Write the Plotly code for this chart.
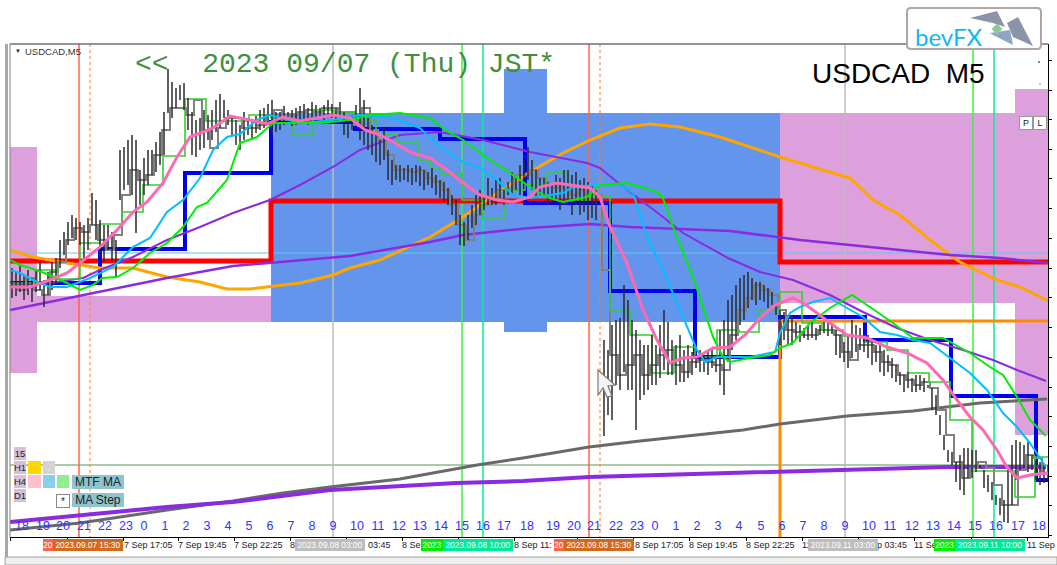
import plotly.graph_objects as go

# Daily range boxes
box_left = [10, 37, 271, 504, 780, 1015]
box_right = [37, 271, 780, 547, 1015, 1048]
box_top = [147, 296, 113, 69, 113, 89]
box_bottom = [373, 322, 322, 332, 303, 435]
box_color = ["#dda0dd", "#dda0dd", "#6495ed", "#6495ed", "#dda0dd", "#dda0dd"]

# Bars: one every 4 units from 12
bar_high = [
    268,272,265,275,270,278,270,262,280,272,
    262,258,240,232,222,215,218,222,225,218,
    193,200,220,225,225,232,240,150,147,140,
    135,140,170,158,150,150,142,132,112,69,
    82,88,85,83,98,112,120,118,110,115,
    110,100,94,100,110,115,120,125,112,118,
    122,116,110,108,104,100,112,112,106,112,
    110,108,106,104,108,102,105,108,105,100,
    104,108,102,112,118,115,105,88,100,118,
    125,135,140,128,150,160,165,165,168,165,
    168,165,166,170,172,168,175,180,182,188,
    195,200,215,222,215,205,195,190,195,178,
    188,180,178,190,182,172,178,165,160,147,
    160,170,178,178,182,185,175,178,170,170,
    175,172,180,178,182,185,190,262,340,350,
    325,320,318,285,300,320,330,340,345,345,
    335,345,325,310,322,340,345,335,350,345,
    352,355,350,355,352,350,355,330,320,300,
    295,285,278,275,272,278,282,282,285,288,
    292,305,310,312,318,315,322,325,328,325,
    322,328,325,322,322,325,330,335,342,335,
    320,325,328,335,335,340,345,345,350,355,
    358,365,372,375,372,378,375,375,378,385,
    388,395,415,435,450,452,462,455,448,448,
    450,450,465,470,475,482,495,498,500,470,
    445,440,442,445,442,455,460,462,465,465,
]
bar_low = [
    298,296,292,300,295,302,292,290,307,295,
    290,285,268,255,245,238,240,245,262,250,
    225,240,258,262,250,262,278,200,190,185,
    195,233,205,195,185,175,172,165,155,113,
    118,108,100,110,130,155,157,150,148,140,
    140,132,128,118,125,135,145,150,140,135,
    140,133,130,128,125,135,132,130,125,122,
    126,125,122,120,125,120,118,118,120,115,
    118,120,118,135,138,130,120,140,145,150,
    155,162,165,160,180,185,180,182,180,182,
    185,182,186,190,185,188,195,198,202,205,
    215,225,245,246,240,228,225,215,210,205,
    205,205,198,205,195,195,190,195,185,180,
    190,198,195,195,205,202,200,210,205,200,
    215,205,215,212,220,218,220,262,436,415,
    420,385,390,372,390,390,430,400,395,390,
    385,385,378,370,375,375,385,382,382,378,
    375,368,372,372,375,368,372,385,395,362,
    350,340,325,320,308,300,305,300,302,308,
    305,315,345,340,345,345,340,342,338,340,
    338,340,335,333,336,334,355,358,362,368,
    358,352,350,352,358,365,362,372,376,372,
    378,382,385,392,388,392,392,390,392,388,
    410,415,435,450,462,465,482,490,495,478,
    478,472,468,488,492,500,505,515,522,523,
    505,480,470,468,472,470,480,485,483,480,
]

# Grey close line: one every 8 units from 10
close_line = [
    285,290,278,290,295,272,262,240,228,232,
    225,240,250,235,195,170,180,175,155,130,
    108,108,115,100,130,148,128,118,118,128,
    128,125,115,110,120,115,112,110,112,108,
    108,112,112,125,108,130,140,155,170,170,
    172,170,178,182,190,205,225,240,215,205,
    200,190,190,175,175,170,178,185,188,185,
    195,190,195,195,270,355,375,365,355,375,
    365,355,350,365,372,362,360,362,365,370,
    335,310,298,285,290,295,310,330,332,335,
    335,330,330,335,352,360,345,345,352,362,
    365,375,380,385,382,388,410,435,462,478,
    468,462,468,485,505,505,470,455,458,472,
]

# Step lines
step_green_x = [10,37,58,80,100,122,143,163,185,206,249,271,292,313,334,355,376,397,418,430,440,462,483,504,525,547,568,590,610,630,652,674,695,717,739,759,780,802,822,843,865,887,908,929,950,972,993,1015,1035,1048]
step_green_y = [283,270,279,243,224,212,185,156,99,121,115,118,135,110,112,120,135,143,160,168,174,200,218,190,185,173,200,196,310,335,373,347,357,330,332,310,292,323,330,336,342,350,373,382,420,471,471,497,457,457]
step_blue_x = [10,100,185,271,355,440,525,610,695,780,865,951,1036,1048]
step_blue_y = [283,249,173,122,129,139,203,291,357,317,340,396,480,480]
step_red_x = [10,271,780,1048]
step_red_y = [261,201,262,262]
step_orange_x = [780,780,1048]
step_orange_y = [537,321,321]

# Moving averages
pink_x = [10,30,50,67,80,100,117,133,147,163,177,190,213,230,250,267,283,300,333,350,365,380,395,410,430,447,463,480,497,513,530,540,557,570,590,600,610,627,643,657,670,683,697,713,730,745,760,775,793,803,813,830,847,867,887,907,927,943,957,970,983,997,1007,1017,1030,1048]
pink_y = [287,287,280,273,263,247,230,212,202,183,157,137,128,116,120,124,117,121,115,118,130,135,143,152,158,170,183,195,200,202,197,187,183,185,188,197,227,263,310,340,363,358,357,348,347,335,318,305,298,303,310,323,335,338,347,353,363,380,400,417,430,450,467,478,475,473]
sky_x = [10,20,33,50,67,90,113,133,150,167,183,200,213,227,240,257,270,300,333,360,390,420,440,463,480,497,513,530,563,573,597,620,633,647,663,680,697,705,717,730,750,775,780,790,800,813,830,847,863,880,897,913,930,950,970,987,1003,1017,1030,1046]
sky_y = [270,273,280,287,287,278,267,247,238,212,200,178,150,137,134,120,115,123,120,115,117,128,147,162,168,180,195,198,193,187,185,185,193,237,270,310,350,362,357,357,357,352,333,313,307,302,298,308,317,332,335,340,343,358,373,390,413,427,443,467]
lime_x = [10,20,30,50,67,80,93,102,117,133,150,167,183,197,207,227,240,257,273,320,350,370,400,430,445,463,490,510,530,547,563,587,600,627,657,663,673,693,713,723,730,750,770,780,793,810,830,852,870,893,913,943,970,990,1003,1017,1030,1046]
lime_y = [260,265,268,275,283,290,285,278,277,268,253,243,227,207,203,180,143,137,123,123,120,115,113,118,130,140,160,173,187,197,202,197,185,183,192,198,227,277,337,357,362,358,355,348,343,323,308,295,307,323,338,338,353,367,375,397,420,436]
orange_x = [10,33,67,100,133,167,200,227,250,300,333,350,380,430,463,497,530,563,590,620,650,680,720,780,850,873,900,930,960,997,1020,1048]
orange_y = [250,257,263,268,268,277,282,289,289,283,275,268,260,237,217,193,172,153,140,128,124,127,137,157,178,200,215,240,262,280,287,301]
violet_x = [10,50,83,100,133,167,200,233,270,300,333,360,400,440,483,530,587,600,617,637,663,683,710,728,760,793,830,863,897,930,963,993,1017,1046]
violet_y = [285,283,278,270,257,240,227,213,200,185,167,150,135,132,140,152,163,168,182,197,217,233,248,258,272,280,295,312,328,340,350,360,370,381]
indigo_x = [10,63,83,167,233,270,333,350,430,463,530,590,630,730,800,900,950,1000,1048]
indigo_y = [310,299,295,278,266,263,258,256,242,235,228,224,227,231,240,250,255,258,263]
slow_violet_x = [10,80,167,233,330,456,523,589,778,842,947,1046]
slow_violet_y = [522,515,507,502,490,483,481,477,472,470,467,467]
slow_grey_x = [10,80,167,233,283,330,400,456,477,523,589,640,743,780,847,913,980,1047]
slow_grey_y = [530,523,510,501,493,487,479,469,465,458,447,441,430,424,416,411,403,399]

# Vertical session lines
vline_x = [79,90,333,462,483,589,600,845,973,994]
vline_color = ["#ff6347","#ff7f27","#bdbdbd","#3cf03c","#00f090","#ff6347","#ff7f27","#bdbdbd","#3cf03c","#00f090"]
vline_dash = ["solid","dot","solid","solid","solid","solid","dot","solid","solid","solid"]

# Axis labels (only the parts the stamps leave visible)
hour_x = [22,43,63,84,105,126,144,165,186,207,228,249,270,291,312,333,357,378,399,420,441,462,483,504,527,553,574,594,616,637,655,676,697,718,739,761,782,803,824,845,869,890,912,933,954,975,996,1018,1039]
hour_labels = ["18","19","20","21","22","23","0","1","2","3","4","5","6","7","8","9","10","11","12","13","14","15","16","17","18","19","20","21","22","23","0","1","2","3","4","5","6","7","8","9","10","11","12","13","14","15","16","17","18"]
xtick_pos = [10,67,123,178,234,290,346,402,458,514,577,633,689,746,802,858,914,971,1027]
xlabel_pos = [10,124,178,234,290,368,402,514,635,689,746,802,877,914,1027]
xlabel_text = ["7 Sep 20","7 Sep 17:05","7 Sep 19:45","7 Sep 22:25","8","03:45","8 Se","8 Sep 11:","8 Sep 17:05","8 Sep 19:45","8 Sep 22:25","11","p 03:45","11 Se","11 Sep"]
stamp_x0 = [53,295,443,564,808,955]
stamp_text = ["2023.09.07 15:30","2023.09.08 03:00","2023.09.08 10:00","2023.09.08 15:30","2023.09.11 03:00","2023.09.11 10:00"]
stamp_color = ["#d2691e","#bdbdbd","#00e89a","#d2691e","#bdbdbd","#00e89a"]
stub_x0 = [43,421,554,934]
stub_x1 = [53,443,564,955]
stub_text = ["20","2023","20","2023"]
stub_color = ["#ff6347","#00ee00","#ff6347","#00ee00"]
ytick_pos = [60,90,119,149,178,208,238,268,297,327,357,387,416,446,476,505,535]

fig = go.Figure()
fig.add_trace(go.Bar(
    x=[(a + b) / 2 for a, b in zip(box_left, box_right)],
    width=[b - a for a, b in zip(box_left, box_right)],
    base=box_top,
    y=[b - t for b, t in zip(box_bottom, box_top)],
    marker=dict(color=box_color, line=dict(width=0)),
))


def line(x, y, color, width, shape="linear", dash="solid"):
    fig.add_trace(go.Scatter(x=x, y=y, mode="lines",
                             line=dict(color=color, width=width, shape=shape, dash=dash)))


line([10, 1048], [253, 253], "#5cc8f5", 1)
line([10, 1048], [465, 465], "#8fb98f", 1.5)
for vx, vc, vd in zip(vline_x, vline_color, vline_dash):
    line([vx, vx], [44, 537], vc, 1.5 if vd == "solid" else 1, dash=vd)

line(step_red_x, step_red_y, "#ff0000", 5, "hv")
line(step_blue_x, step_blue_y, "#0000f0", 4, "hv")
line(step_orange_x, step_orange_y, "#ff8c00", 3)
line(orange_x, orange_y, "#ffa500", 3)
line(indigo_x, indigo_y, "#8a2be2", 2.5)
line(violet_x, violet_y, "#8a2be2", 2)
line(slow_grey_x, slow_grey_y, "#696969", 3)
line(slow_violet_x, slow_violet_y, "#8a2be2", 4)
line([10 + 8 * i for i in range(len(close_line))], close_line, "#808080", 2, "hv")
line(step_green_x, step_green_y, "#32cd32", 1.6, "hv")

wick_x, wick_y = [], []
for i, (h, l) in enumerate(zip(bar_high, bar_low)):
    px = 12 + 4 * i
    wick_x += [px, px, None]
    wick_y += [h, l, None]
line(wick_x, wick_y, "#2a2a2a", 1.5)

line(sky_x, sky_y, "#00bfff", 2)
line(lime_x, lime_y, "#00ee00", 2)
line(pink_x, pink_y, "#ff69b4", 3)
fig.add_trace(go.Scatter(x=hour_x, y=[527] * len(hour_x), mode="text", text=hour_labels,
                         textfont=dict(family="Liberation Sans", size=12.5, color="#3232ff"),
                         cliponaxis=False))
fig.add_trace(go.Scatter(x=[1039, 1040], y=[62, 84], mode="markers",
                         marker=dict(size=2, color=["#228b22", "#aaaaff"])))

annotations = []


def yp(y):
    return (537 - y) / 493


def box(x0, y0, x1, y1, text, bg, fg="#222222", size=10, border=None, family="Liberation Sans"):
    annotations.append(dict(
        x=(x0 + x1) / 2, y=yp((y0 + y1) / 2), xref="x", yref="paper", xanchor="center", yanchor="middle",
        width=x1 - x0, height=y1 - y0, text=text, showarrow=False, align="center", valign="middle",
        bgcolor=bg, borderpad=0, borderwidth=1 if border else 0, bordercolor=border or bg,
        font=dict(family=family, size=size, color=fg)))


def note(x, y, text, color, size, family="Liberation Sans", anchor="left"):
    annotations.append(dict(x=x, y=yp(y), xref="x", yref="paper", xanchor=anchor, yanchor="middle",
                            text=text, showarrow=False,
                            font=dict(family=family, size=size, color=color)))


note(133, 64, "&lt;&lt;\u00a0\u00a02023\u00a009/07\u00a0(Thu)\u00a0JST*", "#3f8f3f", 28, "Liberation Mono")
note(810, 73, "USDCAD\u00a0\u00a0M5", "#000000", 28)
note(13, 51, "\u25bc", "#222222", 6)
note(23, 51, "USDCAD,M5", "#333333", 9.5)
box(1020, 117, 1032, 129, "P", "#ffffff", "#222222", 9, "#999999")
box(1034, 117, 1046, 129, "L", "#ffffff", "#222222", 9, "#999999")

for px, txt in zip(xlabel_pos, xlabel_text):
    note(px - 2, 545, txt, "#222222", 9)
for a, b, t, c in zip(stub_x0, stub_x1, stub_text, stub_color):
    box(a, 539, b, 551, t, c, "#ffffff", 8.3)
for a, t, c in zip(stamp_x0, stamp_text, stamp_color):
    box(a, 539, a + 70, 551, t, c, "#ffffff", 8.3)

for ly, t in zip([447, 461, 475, 489], ["15", "H1", "H4", "D1"]):
    box(14, ly, 26, ly + 13, t, "#d8bfd8", "#222222", 9.5)
box(28, 461, 41, 474, ".", "#ffd700", "#ffffff", 8)
box(43, 461, 55, 474, ".", "#d3d3d3", "#ffffff", 8)
box(28, 475, 41, 488, ".", "#ffc0cb", "#ffffff", 8)
box(43, 475, 55, 488, ".", "#87ceeb", "#ffffff", 8)
box(57, 475, 69, 488, ".", "#90ee90", "#ffffff", 8)
box(72, 475, 124, 489, "MTF MA", "#8fc4cc", "#222222", 12)
box(57, 495, 69, 507, "*", "#ffffff", "#222222", 10, "#888888")
box(72, 493, 124, 507, "MA Step", "#8fc4cc", "#222222", 12)

annotations.append(dict(x=949, y=yp(37), xref="x", yref="paper", xanchor="center", yanchor="middle",
                        text="bevFX", showarrow=False,
                        font=dict(family="Lato", size=24, color="#12b5f5")))


def pp(x, y):
    return f"{(x - 10) / 1038:.5f},{(537 - y) / 493:.5f}"


def poly(points, fill, color=None, width=0):
    d = "M" + " L".join(pp(*p) for p in points) + " Z"
    return dict(type="path", xref="paper", yref="paper", path=d, fillcolor=fill,
                line=dict(color=color or fill, width=width))


shapes = [
    dict(type="rect", xref="paper", yref="paper", x0=(5 - 10) / 1038, x1=(8 - 10) / 1038,
         y0=(537 - 557) / 493, y1=1, fillcolor="#a8a8a8", line=dict(width=0)),
    dict(type="line", xref="paper", yref="paper", x0=0, x1=0, y0=0, y1=1, line=dict(color="#808080", width=1)),
    dict(type="line", xref="paper", yref="paper", x0=0, x1=1, y0=1, y1=1, line=dict(color="#707070", width=1.5)),
    dict(type="rect", xref="paper", yref="paper", x0=(5 - 10) / 1038, x1=(1057 - 10) / 1038,
         y0=(537 - 565) / 493, y1=(537 - 557) / 493, fillcolor="#efefef", line=dict(color="#a0a0a0", width=1)),
    dict(type="path", xref="paper", yref="paper", fillcolor="#ffffff", line=dict(color="#b3a5a5", width=2),
         path=f"M{pp(911, 8)} L{pp(1037, 8)} Q{pp(1041, 8)} {pp(1041, 12)} L{pp(1041, 45)} Q{pp(1041, 49)} {pp(1037, 49)}"
              f" L{pp(911, 49)} Q{pp(907, 49)} {pp(907, 45)} L{pp(907, 12)} Q{pp(907, 8)} {pp(911, 8)} Z"),
    poly([(970, 18), (997, 11), (1005, 27), (993, 23)], "#8a94a8"),
    poly([(1007, 23), (1018, 17), (1033, 46), (1013, 37)], "#8a94a8"),
    poly([(990, 33), (1010, 30), (1013, 45), (993, 35)], "#8ea5c8"),
    poly([(993, 29), (997, 25), (1001, 29), (997, 33)], "#8fca8f", "#8fca8f", 2),
    poly([(598, 370), (615, 385), (608, 386), (612, 396), (607, 397), (603, 388), (598, 395)],
         "#f4f4f4", "#777777", 1.2),
]

fig.update_layout(
    width=1057, height=565, margin=dict(l=10, r=9, t=44, b=28, pad=0, autoexpand=False),
    paper_bgcolor="#ffffff", plot_bgcolor="#ffffff", showlegend=False, hovermode=False,
    barmode="overlay", bargap=0, annotations=annotations, shapes=shapes,
    xaxis=dict(range=[10, 1048], tickmode="array", tickvals=xtick_pos, showticklabels=False, automargin=False,
               ticks="outside", ticklen=3, tickcolor="#000000", showline=True, linecolor="#000000",
               linewidth=1, showgrid=False, zeroline=False),
    yaxis=dict(range=[537, 44], side="right", tickmode="array", tickvals=ytick_pos, showticklabels=False, automargin=False,
               ticks="outside", ticklen=3, tickcolor="#000000", showline=True, linecolor="#000000",
               linewidth=1, showgrid=False, zeroline=False),
)
fig.write_html("out.html", config={"displayModeBar": False},
               post_script="document.body.style.margin='0';document.documentElement.style.overflow='hidden';")
